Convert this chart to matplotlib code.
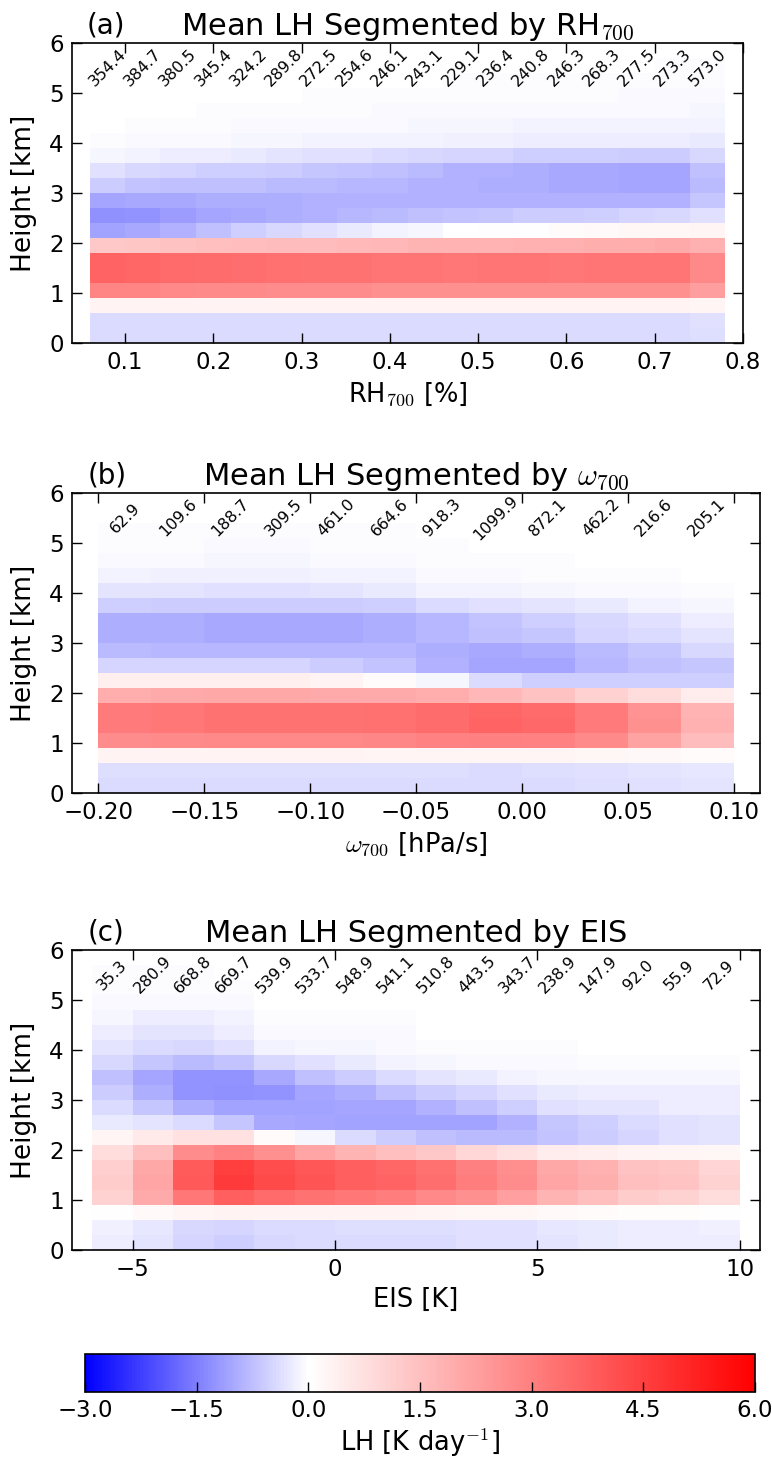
import matplotlib
matplotlib.use("Agg")
import matplotlib.pyplot as plt
import numpy as np
from matplotlib.colors import LinearSegmentedColormap, Normalize

plt.rcParams['font.family'] = ['DejaVu Sans']
plt.rcParams['mathtext.fontset'] = 'cm'

# ---------------- data ----------------
height_edges = [0.0, 0.3, 0.6, 0.9, 1.2, 1.5, 1.8, 2.1, 2.4, 2.7, 3.0,
                3.3, 3.6, 3.9, 4.2, 4.5, 4.8, 5.1, 5.4, 5.7, 6.0]

rh_edges = [0.06, 0.10, 0.14, 0.18, 0.22, 0.26, 0.30, 0.34, 0.38, 0.42,
            0.46, 0.50, 0.54, 0.58, 0.62, 0.66, 0.70, 0.74, 0.78]
rh_counts = [354.4, 384.7, 380.5, 345.4, 324.2, 289.8, 272.5, 254.6, 246.1,
             243.1, 229.1, 236.4, 240.8, 246.3, 268.3, 277.5, 273.3, 573.0]
lh_rh = [
    [-0.42, -0.42, -0.42, -0.42, -0.42, -0.42, -0.42, -0.42, -0.42, -0.42, -0.42, -0.42, -0.42, -0.42, -0.42, -0.42, -0.42, -0.38],
    [-0.40, -0.40, -0.40, -0.40, -0.40, -0.40, -0.40, -0.40, -0.40, -0.40, -0.40, -0.40, -0.40, -0.40, -0.40, -0.40, -0.40, -0.36],
    [0.30, 0.30, 0.30, 0.30, 0.30, 0.30, 0.30, 0.30, 0.30, 0.30, 0.28, 0.28, 0.28, 0.28, 0.28, 0.28, 0.28, 0.25],
    [2.90, 2.90, 2.80, 2.75, 2.75, 2.70, 2.70, 2.70, 2.60, 2.60, 2.60, 2.60, 2.60, 2.60, 2.60, 2.60, 2.60, 2.30],
    [3.65, 3.60, 3.50, 3.45, 3.40, 3.35, 3.30, 3.30, 3.25, 3.25, 3.20, 3.25, 3.25, 3.20, 3.25, 3.25, 3.25, 2.80],
    [3.65, 3.60, 3.50, 3.45, 3.40, 3.35, 3.30, 3.30, 3.25, 3.25, 3.20, 3.25, 3.25, 3.20, 3.25, 3.25, 3.25, 2.80],
    [1.30, 1.35, 1.45, 1.50, 1.55, 1.60, 1.60, 1.65, 1.70, 1.75, 1.80, 1.80, 1.85, 1.85, 1.90, 1.95, 2.00, 1.85],
    [-1.10, -1.00, -0.90, -0.75, -0.55, -0.45, -0.35, -0.25, -0.15, -0.10, 0.00, 0.05, 0.05, 0.10, 0.15, 0.20, 0.20, 0.25],
    [-1.30, -1.25, -1.15, -1.05, -1.00, -0.95, -0.90, -0.85, -0.80, -0.75, -0.70, -0.65, -0.60, -0.60, -0.55, -0.50, -0.45, -0.35],
    [-1.05, -1.00, -1.00, -0.95, -0.95, -0.95, -0.90, -0.90, -0.90, -0.90, -0.90, -0.90, -0.90, -0.90, -0.90, -0.90, -0.90, -0.65],
    [-0.60, -0.70, -0.75, -0.75, -0.75, -0.80, -0.80, -0.85, -0.85, -0.90, -0.90, -0.95, -0.95, -1.00, -1.00, -1.05, -1.05, -0.80],
    [-0.35, -0.45, -0.50, -0.55, -0.55, -0.60, -0.65, -0.70, -0.75, -0.80, -0.90, -0.90, -0.95, -1.00, -1.00, -1.05, -1.05, -0.75],
    [-0.10, -0.15, -0.20, -0.22, -0.25, -0.30, -0.33, -0.35, -0.40, -0.45, -0.50, -0.50, -0.55, -0.55, -0.55, -0.60, -0.60, -0.45],
    [-0.03, -0.05, -0.07, -0.08, -0.10, -0.10, -0.12, -0.13, -0.15, -0.15, -0.17, -0.18, -0.20, -0.20, -0.20, -0.22, -0.22, -0.25],
    [-0.01, -0.02, -0.03, -0.04, -0.05, -0.06, -0.07, -0.07, -0.08, -0.09, -0.10, -0.11, -0.12, -0.12, -0.13, -0.14, -0.15, -0.15],
    [0.00, -0.01, -0.01, -0.02, -0.03, -0.03, -0.04, -0.04, -0.05, -0.05, -0.06, -0.06, -0.07, -0.07, -0.08, -0.08, -0.08, -0.10],
    [0.00, 0.00, 0.00, -0.01, -0.01, -0.01, -0.02, -0.02, -0.02, -0.03, -0.03, -0.03, -0.04, -0.04, -0.04, -0.05, -0.05, -0.06],
    [0.00, 0.00, 0.00, 0.00, 0.00, -0.01, -0.01, -0.01, -0.01, -0.01, -0.02, -0.02, -0.02, -0.02, -0.02, -0.03, -0.03, -0.03],
    [0.00, 0.00, 0.00, 0.00, 0.00, 0.00, 0.00, 0.00, -0.01, -0.01, -0.01, -0.01, -0.01, -0.01, -0.01, -0.01, -0.02, -0.02],
    [0.00, 0.00, 0.00, 0.00, 0.00, 0.00, 0.00, 0.00, 0.00, 0.00, 0.00, 0.00, -0.01, -0.01, -0.01, -0.01, -0.01, -0.01],
]

omega_edges = [-0.200, -0.175, -0.150, -0.125, -0.100, -0.075, -0.050,
               -0.025, 0.000, 0.025, 0.050, 0.075, 0.100]
omega_counts = [62.9, 109.6, 188.7, 309.5, 461.0, 664.6, 918.3, 1099.9,
                872.1, 462.2, 216.6, 205.1]
lh_omega = [
    [-0.40, -0.40, -0.40, -0.40, -0.40, -0.40, -0.40, -0.42, -0.40, -0.38, -0.33, -0.30],
    [-0.38, -0.38, -0.38, -0.38, -0.38, -0.38, -0.38, -0.40, -0.38, -0.35, -0.30, -0.28],
    [0.30, 0.30, 0.30, 0.30, 0.28, 0.25, 0.25, 0.25, 0.25, 0.22, 0.18, 0.12],
    [2.70, 2.75, 2.80, 2.80, 2.80, 2.85, 2.95, 3.00, 2.95, 2.75, 2.20, 1.60],
    [3.10, 3.20, 3.30, 3.30, 3.30, 3.35, 3.45, 3.65, 3.55, 3.15, 2.60, 1.85],
    [3.10, 3.20, 3.30, 3.30, 3.30, 3.35, 3.45, 3.60, 3.50, 3.10, 2.55, 1.80],
    [1.95, 2.00, 2.05, 2.05, 2.00, 2.00, 1.95, 1.70, 1.45, 1.10, 0.80, 0.45],
    [0.40, 0.40, 0.40, 0.38, 0.30, 0.10, -0.10, -0.40, -0.55, -0.55, -0.55, -0.55],
    [-0.50, -0.50, -0.50, -0.50, -0.60, -0.70, -0.90, -1.05, -1.05, -0.85, -0.75, -0.65],
    [-0.80, -0.85, -0.85, -0.85, -0.85, -0.85, -0.95, -1.00, -0.95, -0.80, -0.65, -0.45],
    [-0.95, -0.95, -1.00, -1.00, -1.00, -0.95, -0.85, -0.75, -0.65, -0.50, -0.40, -0.30],
    [-0.95, -0.95, -1.00, -1.00, -1.00, -0.95, -0.85, -0.70, -0.55, -0.45, -0.35, -0.20],
    [-0.55, -0.60, -0.60, -0.60, -0.60, -0.55, -0.40, -0.35, -0.30, -0.25, -0.15, -0.10],
    [-0.30, -0.32, -0.33, -0.33, -0.30, -0.25, -0.15, -0.12, -0.10, -0.07, -0.05, -0.03],
    [-0.15, -0.16, -0.17, -0.17, -0.15, -0.12, -0.07, -0.05, -0.04, -0.03, -0.02, -0.01],
    [-0.08, -0.08, -0.09, -0.09, -0.08, -0.06, -0.03, -0.02, -0.02, -0.01, -0.01, 0.00],
    [-0.04, -0.04, -0.05, -0.05, -0.04, -0.03, -0.02, -0.01, -0.01, 0.00, 0.00, 0.00],
    [-0.02, -0.02, -0.03, -0.03, -0.02, -0.02, -0.01, 0.00, 0.00, 0.00, 0.00, 0.00],
    [-0.01, -0.01, -0.01, -0.01, -0.01, -0.01, 0.00, 0.00, 0.00, 0.00, 0.00, 0.00],
    [0.00, 0.00, 0.00, 0.00, 0.00, 0.00, 0.00, 0.00, 0.00, 0.00, 0.00, 0.00],
]

eis_edges = [-6, -5, -4, -3, -2, -1, 0, 1, 2, 3, 4, 5, 6, 7, 8, 9, 10]
eis_counts = [35.3, 280.9, 668.8, 669.7, 539.9, 533.7, 548.9, 541.1, 510.8,
              443.5, 343.7, 238.9, 147.9, 92.0, 55.9, 72.9]
lh_eis = [
    [-0.20, -0.30, -0.50, -0.55, -0.45, -0.42, -0.40, -0.40, -0.40, -0.35, -0.35, -0.30, -0.25, -0.22, -0.20, -0.20],
    [-0.18, -0.28, -0.45, -0.50, -0.42, -0.40, -0.38, -0.38, -0.38, -0.35, -0.33, -0.28, -0.25, -0.20, -0.20, -0.18],
    [0.05, 0.15, 0.25, 0.30, 0.30, 0.30, 0.30, 0.30, 0.25, 0.20, 0.20, 0.15, 0.10, 0.08, 0.07, 0.05],
    [1.05, 2.00, 3.20, 3.75, 3.50, 3.30, 3.20, 3.05, 2.80, 2.60, 2.25, 1.75, 1.50, 1.20, 1.05, 0.80],
    [1.20, 2.10, 3.90, 4.60, 4.25, 4.00, 3.75, 3.65, 3.40, 3.05, 2.70, 2.10, 1.90, 1.50, 1.40, 1.05],
    [1.15, 2.05, 3.85, 4.55, 4.20, 3.95, 3.75, 3.60, 3.35, 3.00, 2.65, 2.05, 1.85, 1.45, 1.35, 1.00],
    [0.80, 1.50, 2.70, 2.95, 2.60, 2.10, 1.75, 1.50, 1.30, 0.95, 0.70, 0.45, 0.40, 0.30, 0.25, 0.22],
    [0.25, 0.55, 0.70, 0.70, 0.10, -0.10, -0.40, -0.60, -0.75, -0.80, -0.80, -0.70, -0.60, -0.50, -0.35, -0.30],
    [-0.25, -0.30, -0.40, -0.65, -1.00, -1.05, -1.10, -1.10, -1.10, -1.10, -0.90, -0.65, -0.55, -0.40, -0.35, -0.30],
    [-0.40, -0.65, -0.95, -1.10, -1.10, -1.10, -1.05, -1.05, -0.90, -0.75, -0.55, -0.35, -0.30, -0.30, -0.20, -0.20],
    [-0.60, -0.95, -1.25, -1.30, -1.25, -1.05, -0.95, -0.75, -0.60, -0.50, -0.35, -0.25, -0.20, -0.20, -0.20, -0.20],
    [-0.75, -1.05, -1.25, -1.25, -1.00, -0.75, -0.60, -0.40, -0.30, -0.25, -0.15, -0.10, -0.10, -0.10, -0.10, -0.10],
    [-0.45, -0.65, -0.80, -0.70, -0.45, -0.35, -0.25, -0.15, -0.10, -0.05, -0.05, -0.05, -0.02, -0.02, -0.02, -0.02],
    [-0.30, -0.40, -0.45, -0.35, -0.15, -0.10, -0.10, -0.06, -0.02, -0.02, -0.02, -0.02, -0.01, -0.01, -0.01, -0.01],
    [-0.20, -0.30, -0.30, -0.20, -0.07, -0.05, -0.05, -0.05, -0.01, -0.01, -0.01, -0.01, 0.00, 0.00, 0.00, 0.00],
    [-0.10, -0.20, -0.20, -0.15, -0.03, -0.02, -0.02, -0.02, 0.00, 0.00, 0.00, 0.00, 0.00, 0.00, 0.00, 0.00],
    [-0.07, -0.08, -0.08, -0.07, -0.01, -0.01, -0.01, -0.01, 0.00, 0.00, 0.00, 0.00, 0.00, 0.00, 0.00, 0.00],
    [-0.04, -0.04, -0.03, -0.03, 0.00, 0.00, 0.00, 0.00, 0.00, 0.00, 0.00, 0.00, 0.00, 0.00, 0.00, 0.00],
    [-0.02, -0.02, -0.02, -0.01, 0.00, 0.00, 0.00, 0.00, 0.00, 0.00, 0.00, 0.00, 0.00, 0.00, 0.00, 0.00],
    [-0.01, -0.01, -0.01, 0.00, 0.00, 0.00, 0.00, 0.00, 0.00, 0.00, 0.00, 0.00, 0.00, 0.00, 0.00, 0.00],
]

panel_letters = ['(a)', '(b)', '(c)']
titles = ['Mean LH Segmented by RH$_{700}$',
          'Mean LH Segmented by $\\omega_{700}$',
          'Mean LH Segmented by EIS']
xlabels = ['RH$_{700}$ [%]', '$\\omega_{700}$ [hPa/s]', 'EIS [K]']
xticks_list = [[0.1, 0.2, 0.3, 0.4, 0.5, 0.6, 0.7, 0.8],
               [-0.20, -0.15, -0.10, -0.05, 0.00, 0.05, 0.10],
               [-5, 0, 5, 10]]
cbar_ticks = [-3.0, -1.5, 0.0, 1.5, 3.0, 4.5, 6.0]

# ---------------- figure ----------------
W, H = 772, 1462
fig = plt.figure(figsize=(W / 100, H / 100), dpi=100, facecolor='white')

cmap = LinearSegmentedColormap.from_list(
    'bwr_shift', [(0.0, (0, 0, 1)), (1 / 3, (1, 1, 1)), (1.0, (1, 0, 0))])
norm = Normalize(vmin=-3, vmax=6)


def px_axes(left, right, top, bottom):
    return fig.add_axes([left / W, 1 - bottom / H, (right - left) / W, (bottom - top) / H])


axes_px = [(72, 743, 43, 343), (72, 760, 493, 793), (72, 760, 950, 1250)]
panels = [(rh_edges, lh_rh, rh_counts, '%.1f'),
          (omega_edges, lh_omega, omega_counts, '%.1f'),
          (eis_edges, lh_eis, eis_counts, '%.1f')]

mesh = None
for i, (edges, vals, counts, fmt) in enumerate(panels):
    ax = px_axes(*axes_px[i])
    xe = np.array(edges, dtype=float)
    ye = np.array(height_edges)
    mesh = ax.pcolormesh(xe, ye, np.array(vals), cmap=cmap, norm=norm,
                         shading='flat', edgecolors='none', antialiased=False)
    w = xe[1] - xe[0]
    ax.set_xlim(xe[0] - w / 2, xe[-1] + w / 2)
    ax.set_ylim(0, 6)
    centers = (xe[:-1] + xe[1:]) / 2
    for c, n in zip(centers, counts):
        ax.text(c, 5.5, fmt % n, rotation=45, ha='center', va='center',
                fontsize=11.5)
    ax.set_xticks(xticks_list[i])
    ax.set_yticks([0, 1, 2, 3, 4, 5, 6])
    ax.tick_params(direction='in', top=True, right=True, length=7, width=1,
                   labelsize=16.5, pad=6)
    for s in ax.spines.values():
        s.set_linewidth(1.2)
    ax.set_ylabel('Height [km]', fontsize=19, labelpad=9)
    ax.set_xlabel(xlabels[i], fontsize=18.5, labelpad=4)
    ax.set_title(titles[i], fontsize=22, pad=6)
    ax.text(0.022, 1.012, panel_letters[i], transform=ax.transAxes,
            fontsize=20, ha='left', va='bottom')

cax = px_axes(85, 755, 1354, 1392)
cb = fig.colorbar(mesh, cax=cax, orientation='horizontal')
cb.set_ticks(cbar_ticks)
cb.ax.tick_params(direction='in', length=7, width=1, labelsize=16.5, pad=5)
cb.outline.set_linewidth(1.2)
cb.set_label('LH [K day$^{-1}$]', fontsize=18.5, labelpad=3)

fig.savefig('out.png', dpi=100, facecolor='white')
